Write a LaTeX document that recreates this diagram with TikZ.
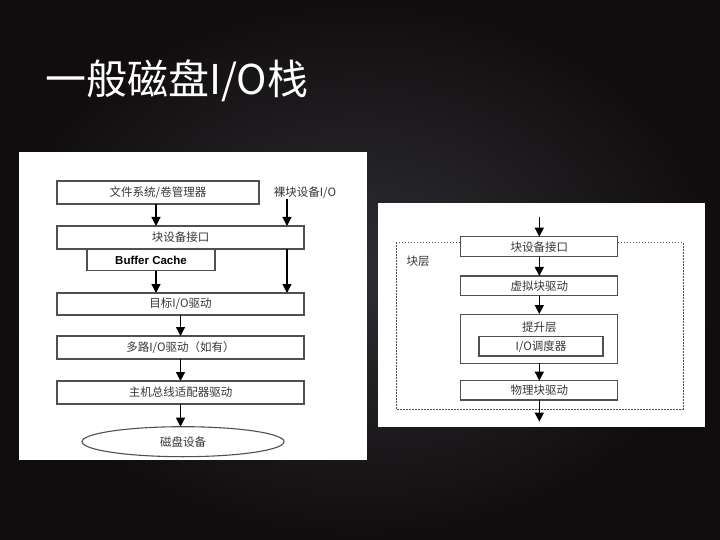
\documentclass[tikz,border=0pt]{standalone}
\usepackage{fontspec}
\newfontfamily\cjk{Noto Sans CJK SC}
\newfontfamily\arialb{Liberation Sans}
\usetikzlibrary{arrows.meta,shapes.geometric}
\definecolor{slidebg}{RGB}{17,13,15}
\definecolor{slidebgc}{RGB}{46,46,50}
\definecolor{boxline}{RGB}{80,80,80}
\definecolor{boxtext}{RGB}{55,55,55}
\tikzset{
  iobox/.style={draw=boxline,line width=1.1pt,fill=white,inner sep=0pt,outer sep=0pt,text=boxtext,font=\cjk\fontsize{11.5}{13}\selectfont},
  ioarrow/.style={draw=black,line width=1.2pt,-{Triangle[length=9pt,width=9pt]}},
}

\begin{document}
\begin{tikzpicture}[x=1pt,y=-1pt]
    % Fondo
    \shade[inner color=slidebgc,outer color=slidebg] (0,0) rectangle (720,540);
    \useasboundingbox (0,0) rectangle (720,540);
    \node[anchor=west,text=white,inner sep=0pt,font=\cjk\fontsize{41}{41}\selectfont] (title) at (45,81) {一般磁盘I/O栈};

    % Pila general
    \fill[white] (19,152) rectangle (367,460);
    \coordinate (lx) at (156,0);
    \coordinate (rx) at (287,0);
    \node[iobox,minimum width=202,minimum height=23] (fs) at (158,192.5) {文件系统/卷管理器};
    \node[text=boxtext,inner sep=0pt,font=\cjk\fontsize{11.5}{13}\selectfont] (rawio) at (305,192.5) {裸块设备I/O};
    \node[iobox,minimum width=247,minimum height=23] (blk) at (180.5,237.5) {块设备接口};
    \node[iobox,minimum width=128,minimum height=21.7,font=\arialb\bfseries\fontsize{11.5}{13}\selectfont,text=black] (bcache) at (151,260) {Buffer Cache};
    \node[iobox,minimum width=247,minimum height=22] (tgt) at (180.5,304) {目标I/O驱动};
    \node[iobox,minimum width=247,minimum height=23] (mp) at (180.5,347.5) {多路I/O驱动（如有）};
    \node[iobox,minimum width=247,minimum height=23] (hba) at (180.5,392.5) {主机总线适配器驱动};
    \node[iobox,ellipse,minimum width=202,minimum height=30] (disk) at (183,441.7) {磁盘设备};
    \draw[ioarrow] (fs.south -| lx) -- (blk.north -| lx);
    \draw[ioarrow] (rawio.south -| rx) -- (blk.north -| rx);
    \draw[ioarrow] (bcache.south -| lx) -- (tgt.north -| lx);
    \draw[ioarrow] (blk.south -| rx) -- (tgt.north -| rx);
    \draw[ioarrow] (tgt) -- (mp);
    \draw[ioarrow] (mp) -- (hba);
    \draw[ioarrow] (hba.south) -- (disk.north -| hba.south);

    % Capa de bloques
    \fill[white] (378,203) rectangle (705,427);
    \draw[boxline,line width=0.9pt,dash pattern=on 1.5pt off 1.5pt] (396,242.3) rectangle (683,409);
    \node[text=boxtext,inner sep=0pt,font=\cjk\fontsize{11.5}{13}\selectfont] (layer) at (418,261) {块层};
    \coordinate (in) at (539.3,216.7);
    \coordinate (out) at (539.3,421.7);
    \node[iobox,minimum width=157,minimum height=20] (blk2) at (539.3,246.7) {块设备接口};
    \node[iobox,minimum width=157,minimum height=19.7] (vblk) at (539.3,285.8) {虚拟块驱动};
    \node[iobox,minimum width=157,minimum height=49.3] (lift) at (539.3,338.7) {};
    \node[text=boxtext,inner sep=0pt,font=\cjk\fontsize{11.5}{13}\selectfont] (liftlbl) at (539.3,326.7) {提升层};
    \node[iobox,minimum width=124,minimum height=19.3] (sched) at (541,346.3) {I/O调度器};
    \node[iobox,minimum width=157,minimum height=19.3] (phys) at (539.3,390.3) {物理块驱动};
    \draw[ioarrow] (in) -- (blk2);
    \draw[ioarrow] (blk2) -- (vblk);
    \draw[ioarrow] (vblk) -- (lift);
    \draw[ioarrow] (lift) -- (phys);
    \draw[ioarrow] (phys) -- (out);
\end{tikzpicture}
\end{document}
